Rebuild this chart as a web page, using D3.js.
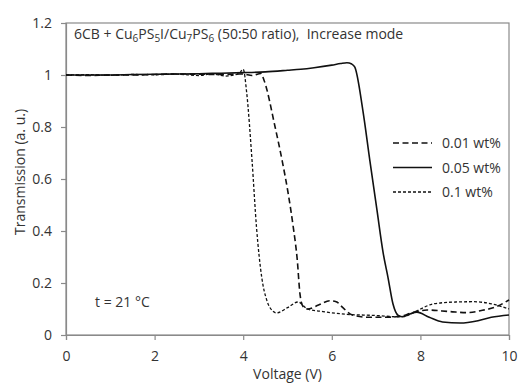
<!DOCTYPE html>
<html>
<head>
<meta charset="utf-8">
<script src="https://cdn.jsdelivr.net/npm/d3@7"></script>
<style>
  body { margin: 0; background: #fff; }
  text { font-family: "Open Sans", sans-serif; fill: #333; }
</style>
</head>
<body>
<svg id="chart" width="519" height="383"></svg>
<script>
// voltage (V) / transmission (a. u.)
var x_001 = [0, 0.5, 1, 1.5, 2, 2.5, 3, 3.5, 4, 4.2, 4.4, 4.47, 4.72, 4.88, 5.01, 5.13, 5.22, 5.28, 5.35, 5.45, 5.7, 5.95, 6.1, 6.25, 6.45, 6.8, 7.2, 7.55, 7.8, 8.15, 8.67, 9.05, 9.4, 9.7, 10];
var y_001 = [1.0, 0.998, 1.0, 1.0, 1.002, 1.004, 1.003, 1.002, 1.004, 0.998, 1.006, 0.98, 0.8, 0.67, 0.55, 0.415, 0.29, 0.16, 0.11, 0.1, 0.115, 0.132, 0.128, 0.105, 0.078, 0.068, 0.068, 0.072, 0.085, 0.096, 0.09, 0.086, 0.095, 0.108, 0.135];

var x_005 = [0, 0.5, 1, 1.5, 2, 2.5, 3, 3.5, 4, 4.5, 5, 5.3, 5.6, 6.0, 6.2, 6.34, 6.45, 6.52, 6.7, 6.86, 7.02, 7.16, 7.27, 7.38, 7.5, 7.6, 7.75, 7.92, 8.2, 8.5, 8.9, 9.3, 9.6, 10];
var y_005 = [1.0, 1.0, 1.0, 1.002, 1.003, 1.004, 1.005, 1.007, 1.009, 1.012, 1.018, 1.022, 1.028, 1.038, 1.044, 1.047, 1.042, 1.03, 0.865, 0.67, 0.48, 0.315, 0.22, 0.12, 0.075, 0.07, 0.08, 0.088, 0.068, 0.05, 0.046, 0.055, 0.068, 0.077];

var x_01 = [0, 0.5, 1, 1.5, 2, 2.5, 3, 3.3, 3.6, 3.9, 4.0, 4.08, 4.2, 4.3, 4.42, 4.53, 4.65, 4.75, 5.0, 5.24, 5.45, 5.8, 6.3, 7.0, 7.5, 7.7, 8.0, 8.3, 8.8, 9.2, 9.6, 10];
var y_01 = [1.0, 1.001, 0.999, 1.002, 1.001, 1.003, 0.998, 1.004, 0.996, 1.005, 1.022, 0.93, 0.67, 0.415, 0.22, 0.135, 0.095, 0.085, 0.105, 0.127, 0.1, 0.09, 0.08, 0.075, 0.07, 0.075, 0.1, 0.12, 0.127, 0.128, 0.12, 0.1];

var x_ticks = [0, 2, 4, 6, 8, 10];
var y_ticks = [0, 0.2, 0.4, 0.6, 0.8, 1, 1.2];
var series_names = ["0.01 wt%", "0.05 wt%", "0.1 wt%"];

var FS = "14px";
var svg = d3.select("svg#chart");

var x = d3.scaleLinear().domain([0, 10]).range([66, 509]);
var y = d3.scaleLinear().domain([0, 1.2]).range([335, 23]);

// plot frame
svg.append("rect")
    .attr("x", x(0)).attr("y", y(1.2))
    .attr("width", x(10) - x(0)).attr("height", y(0) - y(1.2))
    .attr("fill", "none").attr("stroke", "#8a8a8a").attr("stroke-width", 1.2);

var xAxis = svg.append("g")
    .attr("transform", "translate(0," + y(0) + ")")
    .call(d3.axisBottom(x).tickValues(x_ticks).tickSize(5).tickPadding(11).tickFormat(d3.format("d")));

var yAxis = svg.append("g")
    .attr("transform", "translate(" + x(0) + ",0)")
    .call(d3.axisLeft(y).tickValues(y_ticks).tickSize(5).tickPadding(9).tickFormat(function (d) { return d === 0 || d === 1 ? d : d3.format(".1f")(d); }));

[xAxis, yAxis].forEach(function (g) {
    g.select(".domain").attr("stroke", "#8a8a8a").attr("stroke-width", 1.2);
    g.selectAll(".tick line").attr("stroke", "#8a8a8a").attr("stroke-width", 1.2);
    g.selectAll(".tick text")
        .style("font-family", "'Open Sans', sans-serif")
        .style("font-size", FS)
        .attr("fill", "#333");
});

var line = d3.line()
    .x(function (d) { return x(d[0]); })
    .y(function (d) { return y(d[1]); })
    .curve(d3.curveMonotoneX);

var styles = [
    { width: 1.6, dash: "6,3.5" },
    { width: 1.6, dash: null },
    { width: 1.3, dash: "3,2" }
];

var data = [
    d3.zip(x_001, y_001),
    d3.zip(x_005, y_005),
    d3.zip(x_01, y_01)
];

data.forEach(function (pts, i) {
    svg.append("path")
        .datum(pts)
        .attr("fill", "none")
        .attr("stroke", "#111")
        .attr("stroke-width", styles[i].width)
        .attr("stroke-dasharray", styles[i].dash)
        .attr("d", line);
});

// legend
var legend = svg.append("g");
series_names.forEach(function (name, i) {
    var ly = 143 + i * 24.5;
    legend.append("line")
        .attr("x1", 393).attr("x2", 432)
        .attr("y1", ly).attr("y2", ly)
        .attr("stroke", "#111")
        .attr("stroke-width", styles[i].width)
        .attr("stroke-dasharray", styles[i].dash);
    legend.append("text")
        .attr("x", 442).attr("y", ly + 5)
        .style("font-size", FS)
        .text(name);
});

// title with subscripts
var title = svg.append("text")
    .attr("x", 74).attr("y", 39)
    .style("font-size", FS);
var parts = [["6CB + Cu", 0], ["6", 1], ["PS", 0], ["5", 1], ["I/Cu", 0], ["7", 1], ["PS", 0], ["6", 1], [" (50:50 ratio),  Increase mode", 0]];
parts.forEach(function (p, i) {
    var prev = i > 0 ? parts[i - 1][1] : 0;
    var dy = p[1] && !prev ? 3 : (!p[1] && prev ? -3 : 0);
    title.append("tspan")
        .attr("dy", dy)
        .style("font-size", p[1] ? "10px" : FS)
        .style("white-space", "pre")
        .text(p[0]);
});

svg.append("text")
    .attr("x", 95).attr("y", 307)
    .style("font-size", FS)
    .text("t = 21 °C");

svg.append("text")
    .attr("x", (x(0) + x(10)) / 2).attr("y", 378.5)
    .attr("text-anchor", "middle")
    .style("font-size", FS)
    .text("Voltage (V)");

svg.append("text")
    .attr("transform", "translate(25,172) rotate(-90)")
    .attr("text-anchor", "middle")
    .style("font-size", FS)
    .text("Transmission (a. u.)");
</script>
</body>
</html>
